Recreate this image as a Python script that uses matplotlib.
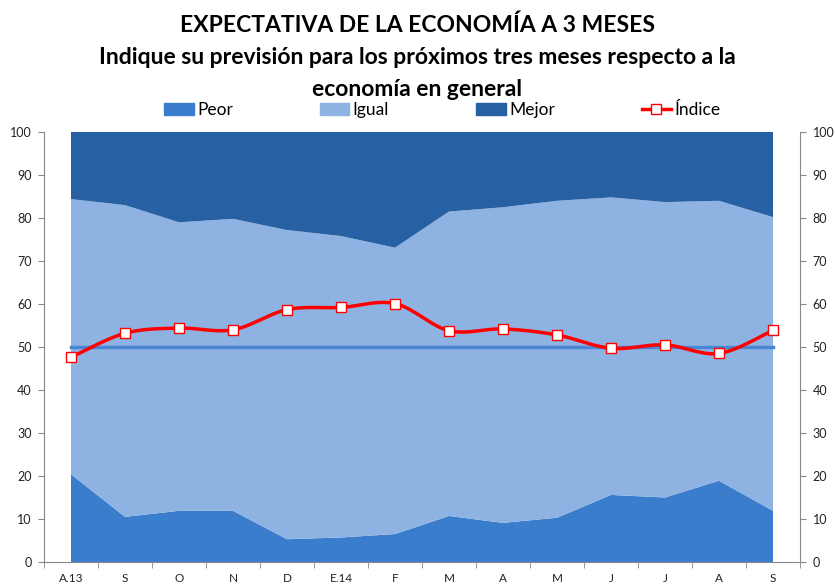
import numpy as np
import matplotlib
matplotlib.use("Agg")
import matplotlib.pyplot as plt
from matplotlib.lines import Line2D
from matplotlib.patches import Patch

plt.rcParams['font.family'] = ['Lato', 'DejaVu Sans']

categories = ["A.13", "S", "O", "N", "D", "E.14", "F", "M", "A", "M", "J", "J", "A", "S"]
peor = [20.4, 10.5, 11.9, 11.9, 5.3, 5.7, 6.5, 10.7, 9.1, 10.3, 15.6, 15.0, 18.9, 11.9]
peor_igual = [84.4, 83.0, 79.0, 79.8, 77.2, 75.8, 73.1, 81.5, 82.5, 84.0, 84.8, 83.7, 84.0, 80.2]
igual = [round(b - a, 1) for a, b in zip(peor, peor_igual)]
mejor = [round(100 - b, 1) for b in peor_igual]
indice = [47.6, 53.2, 54.4, 54.0, 58.7, 59.2, 60.1, 53.8, 54.2, 52.8, 49.7, 50.5, 48.5, 53.9]
referencia = 50

c_peor = "#3A7DCD"
c_igual = "#8EB3E2"
c_mejor = "#2860A4"
c_ref = "#4A86D2"

def smooth(x, y, n=20, tension=0.5):
    x = np.asarray(x, float); y = np.asarray(y, float)
    P = np.column_stack([x, y])
    P = np.vstack([P[0], P, P[-1]])
    out = []
    for i in range(1, len(P) - 2):
        p0, p1, p2, p3 = P[i-1], P[i], P[i+1], P[i+2]
        m1 = (p2 - p0) * tension
        m2 = (p3 - p1) * tension
        t = np.linspace(0, 1, n, endpoint=False)[:, None]
        h00 = 2*t**3 - 3*t**2 + 1
        h10 = t**3 - 2*t**2 + t
        h01 = -2*t**3 + 3*t**2
        h11 = t**3 - t**2
        out.append(h00*p1 + h10*m1 + h01*p2 + h11*m2)
    out.append(P[-2][None, :])
    out = np.vstack(out)
    return out[:, 0], out[:, 1]

fig = plt.figure(figsize=(8.35, 5.88), dpi=100)
ax = fig.add_axes([44/835, 1-562/588, 756/835, 430/588])
x = np.arange(len(categories))
ax.stackplot(x, peor, igual, mejor, colors=[c_peor, c_igual, c_mejor], linewidth=0)
ax.plot([x[0], x[-1]], [referencia, referencia], color=c_ref, lw=2.5, zorder=3)
sx, sy = smooth(x, indice)
ax.plot(sx, sy, color="#FF0000", lw=2.5, zorder=4)
ax.plot(x, indice, ls="none", marker="s", ms=7, mfc="white", mec="#FF0000", mew=1.0, zorder=5)

ax.set_xlim(-0.5, len(categories) - 0.5)
ax.set_ylim(0, 100)
ax.set_yticks(np.arange(0, 101, 10))
ax.set_xticks(x)
ax.set_xticklabels(categories)
ax.set_xticks(np.arange(-0.5, len(categories), 1), minor=True)
ax.tick_params(axis="x", which="major", length=0, pad=8, labelsize=8.5, colors="#222222")
ax.tick_params(axis="x", which="minor", length=4, direction="out", color="#888888")
ax.tick_params(axis="y", length=4, color="#888888", labelsize=9, colors="#222222", pad=5)
for s in ["top", "right"]:
    ax.spines[s].set_visible(False)
for s in ["left", "bottom"]:
    ax.spines[s].set_color("#888888")

ax2 = ax.twinx()
ax2.set_ylim(0, 100)
ax2.set_yticks(np.arange(0, 101, 10))
ax2.tick_params(axis="y", length=4, color="#888888", labelsize=9, colors="#222222", pad=5)
for s in ["top", "left", "bottom"]:
    ax2.spines[s].set_visible(False)
ax2.spines["right"].set_color("#888888")

fig.text(0.5, 1-15/588, "EXPECTATIVA DE LA ECONOMÍA A 3 MESES\nIndique su previsión para los próximos tres meses respecto a la\neconomía en general",
         ha="center", va="top", fontsize=16.5, fontweight="bold", linespacing=1.62)

handles = [Patch(color=c_peor), Patch(color=c_igual), Patch(color=c_mejor),
           Line2D([], [], color="#FF0000", lw=2.5, marker="s", ms=7, mfc="white", mec="#FF0000")]
fig.legend(handles, ["Peor", "Igual", "Mejor", "Índice"], loc="center", bbox_to_anchor=(0.5 + 25/835, 1-110/588),
           ncol=4, frameon=False, fontsize=12.5, columnspacing=5.0, handlelength=1.7, handleheight=0.75,
           handletextpad=0.2, borderpad=0)

fig.savefig("out.png", dpi=100)
